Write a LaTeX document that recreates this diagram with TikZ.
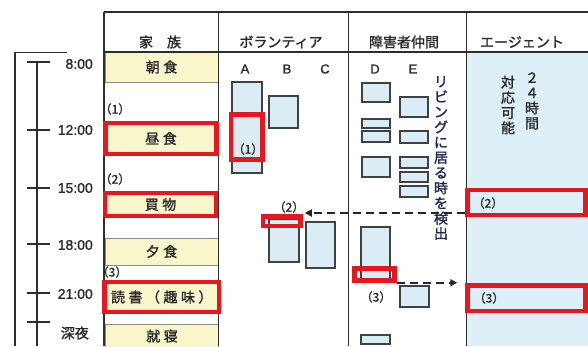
\documentclass[tikz,border=0pt]{standalone}
\usepackage{fontspec}
\setmainfont{Noto Sans CJK JP}[RawFeature={embolden=1.3}]
\newfontfamily\lat{Liberation Sans}[RawFeature={embolden=1}]
\newfontfamily\jsp{Noto Sans CJK JP}[LetterSpace=25,RawFeature={embolden=1.3}]
\usetikzlibrary{arrows.meta,fit}
\definecolor{yel}{RGB}{250,246,204}
\definecolor{lblue}{RGB}{218,237,245}
\definecolor{agblue}{RGB}{221,239,247}
\definecolor{redc}{RGB}{232,22,30}
\definecolor{boxline}{RGB}{60,66,72}
\definecolor{tline}{RGB}{45,45,45}
\definecolor{cline}{RGB}{140,140,140}
\definecolor{txt}{RGB}{40,40,40}
\definecolor{navy}{RGB}{30,40,80}
\tikzset{
  cell/.style={fill=yel, draw=cline, line width=0.8pt, inner sep=0pt},
  rcell/.style={fill=yel, inner sep=0pt},
  bbox/.style={fill=lblue, draw=boxline, line width=1.1pt, inner sep=0pt},
  rbox/.style={draw=redc, line width=4.5pt, inner sep=0pt},
  famtxt/.style={inner sep=0pt, text=txt, font=\jsp\fontsize{14}{16}\selectfont},
  headtxt/.style={inner sep=0pt, text=txt, font=\fontsize{14}{16}\selectfont},
  timetxt/.style={inner sep=0pt, text=txt, anchor=east, font=\lat\fontsize{14}{16}\selectfont},
  coltxt/.style={inner sep=0pt, text=txt, font=\lat\fontsize{13}{15}\selectfont},
  numtxt/.style={inner sep=0pt, text=txt, font=\fontsize{12}{14}\selectfont},
  vtext/.style={align=center, inner sep=0pt, font=\fontsize{14}{15.2}\selectfont},
  tabline/.style={draw=tline, line width=1pt},
  tl/.style={draw=tline, line width=1.2pt},
  dasharrow/.style={draw=black!85, line width=2pt, dash pattern=on 8pt off 5pt,
    -{Triangle[length=7pt,width=7pt]}}
}
\begin{document}
\begin{tikzpicture}[x=1pt,y=-1pt]
\useasboundingbox (0,0) rectangle (588,346);
\fill[white] (0,0) rectangle (588,346);

% agent column fill
\fill[agblue] (466.5,52.5) rectangle (588,346);

% family cells
\node[cell, fit={(105,52) (218,82)}] (c1) {};
\node[rcell, fit={(105.5,123) (216.5,154)}] (c2) {};
\node[rcell, fit={(105,193) (216,216)}] (c3) {};
\node[cell, fit={(105,238) (218,265)}] (c4) {};
\node[rcell, fit={(104.5,282) (219,312)}] (c5) {};
\node[cell, fit={(105,324) (218,350)}] (c6) {};

% table lines
\draw[tabline, line width=1.5pt] (104,12) -- (588,12);
\draw[tabline, line width=1.2pt] (104,52) -- (588,52);
\draw[tabline] (218,12) -- (218,346);
\draw[tabline] (348,12) -- (348,346);
\draw[tabline] (466,12) -- (466,346);
\draw[tabline, line width=2.2pt] (104,12) -- (104,346);

% headers
\node[headtxt] (h1) at (160,42) {家　族};
\node[headtxt] (h2) at (281,42) {ボランティア};
\node[headtxt] (h3) at (404,42) {障害者仲間};
\node[headtxt] (h4) at (522,42) {エージェント};

% family texts
\node[famtxt] (f1) at (c1) {朝食};
\node[famtxt] (f2) at (c2) {昼食};
\node[famtxt] (f3) at (c3) {買物};
\node[famtxt] (f4) at (c4) {夕食};
\node[famtxt] (f5) at (c5) {読書（趣味）};
\node[famtxt] (f6) at (162,336) {就寝};
\node[numtxt] (n1) at (115,109) {（1）};
\node[numtxt] (n2) at (115,179) {（2）};
\node[numtxt] (n3) at (112,272) {（3）};

% timeline
\draw[tl] (67,52.5) -- (15,52.5) -- (15,346);
\draw[tl] (37,62) -- (37,346);
\foreach \yy in {62,130,188,244,293,322} {\draw[tl] (27,\yy) -- (50,\yy);}
\node[timetxt] (t1) at (93,64) {8:00};
\node[timetxt] (t2) at (93,130) {12:00};
\node[timetxt] (t3) at (93,188) {15:00};
\node[timetxt] (t4) at (93,245) {18:00};
\node[timetxt] (t5) at (93,294) {21:00};
\node[headtxt, anchor=east] (t6) at (89,333) {深夜};

% column letters
\node[coltxt] (lA) at (245,69) {A};
\node[coltxt] (lB) at (287,69) {B};
\node[coltxt] (lC) at (325,69) {C};
\node[coltxt] (lD) at (375,69) {D};
\node[coltxt] (lE) at (413,69) {E};

% volunteer boxes
\node[bbox, fit={(232,82) (262,173)}] (A1) {};
\node[bbox, fit={(269,96) (298,128)}] (B1) {};
\node[bbox, fit={(269,219) (299,262)}] (B2) {};
\node[bbox, fit={(306,222) (335,268)}] (C1) {};

% disabled peers boxes
\node[bbox, fit={(362,83) (390,102)}] (D1) {};
\node[bbox, fit={(362,119) (390,128)}] (D2) {};
\node[bbox, fit={(362,131) (390,142)}] (D3) {};
\node[bbox, fit={(362,157) (390,177)}] (D4) {};
\node[bbox, fit={(361,227) (390,279)}] (D5) {};
\node[bbox, fit={(361,335) (390,344)}] (D6) {};
\node[bbox, fit={(400,97) (428,117)}] (E1) {};
\node[bbox, fit={(400,131) (428,143)}] (E2) {};
\node[bbox, fit={(400,157) (428,168)}] (E3) {};
\node[bbox, fit={(400,172) (428,182)}] (E4) {};
\node[bbox, fit={(400,186) (428,197)}] (E5) {};
\node[bbox, fit={(400,286) (429,307)}] (E6) {};

% red frames
\node[rbox, fit={(105.5,123) (216.5,154)}] (R1) {};
\node[rbox, fit={(105,193) (216,216)}] (R2) {};
\node[rbox, fit={(104.5,282) (219,312)}] (R3) {};
\node[rbox, fit={(231,114.5) (262.5,159.5)}] (RA) {};
\node[rbox, fit={(263,216.5) (300.5,226)}] (RB) {};
\node[rbox, fit={(354.5,268.5) (394.5,280.5)}] (RD) {};
\node[rbox, fit={(467.5,190) (585.5,215)}] (RG2) {};
\node[rbox, fit={(467.5,285.5) (585.5,311)}] (RG3) {};

% numbers in boxes
\node[numtxt] (m1) at (248,149) {（1）};
\node[numtxt] (m2) at (289,207) {（2）};
\node[numtxt] (m3) at (376,297) {（3）};
\node[numtxt] (g2) at (488,203) {（2）};
\node[numtxt] (g3) at (489,298) {（3）};

% vertical texts
\node[vtext, text=navy] (vt) at (441,158) {リ\\ビ\\ン\\グ\\に\\居\\る\\時\\を\\検\\出};
\node[vtext, text=txt] (v24) at (532,101) {２\\４\\時\\間};
\node[vtext, text=txt] (vtai) at (508,105) {対\\応\\可\\能};

% arrows
\coordinate (y2) at (0,213);
\draw[dasharrow] (RG2.west |- y2) -- ([xshift=2pt]RB.east |- y2);
\draw[dasharrow, shorten >=8pt] (RD.south east) -- (RG3.west |- RD.south east);
\end{tikzpicture}
\end{document}
